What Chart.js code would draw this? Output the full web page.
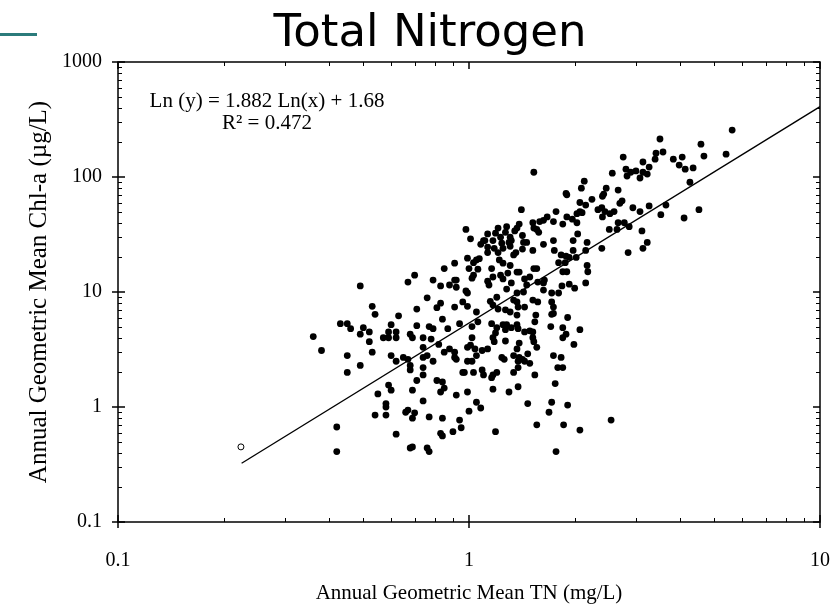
<!DOCTYPE html>
<html>
<head>
<meta charset="utf-8">
<title>Total Nitrogen</title>
<script src="https://cdn.jsdelivr.net/npm/chart.js@4.4.1/dist/chart.umd.min.js"></script>
<style>
  body { margin: 0; background: #fff; }
  canvas { display: block; }
</style>
</head>
<body>
<canvas id="tnChart" width="835" height="608"></canvas>
<script>
// Annual geometric mean TN (mg/L), one entry per lake-year
const tnValues = [
  3.50, 4.58, 5.40, 4.67, 3.41, 3.57, 3.39, 3.82, 4.05, 3.97,
  4.13, 4.35, 3.26, 3.22, 3.13, 2.75, 2.80, 2.82, 2.89, 2.99,
  3.07, 3.13, 2.56, 1.53, 2.13, 2.09, 2.46, 2.42, 2.40, 2.66,
  1.89, 1.90, 2.24, 2.07, 2.15, 2.69, 2.73, 2.93, 3.07, 3.26,
  3.64, 3.52, 4.26, 4.52, 4.10, 2.33, 2.39, 2.44, 2.52, 2.59,
  2.40, 1.77, 1.67, 1.90, 1.97, 2.03, 2.07, 2.10, 2.03, 1.85,
  1.74, 1.59, 1.63, 1.52, 1.56, 1.53, 1.58, 2.66, 2.77, 2.86,
  2.64, 2.51, 3.11, 3.22, 3.13, 2.84, 2.39, 2.04, 1.74, 1.63,
  1.98, 2.17, 1.52, 1.75, 1.98, 1.83, 1.89, 1.93, 2.02, 2.15,
  1.80, 1.88, 2.17, 2.18, 1.85, 1.90, 1.56, 1.53, 1.49, 1.64,
  1.63, 1.63, 1.57, 1.84, 1.93, 2.00, 2.15, 1.72, 1.80, 5.62,
  1.41, 0.98, 1.01, 1.13, 1.11, 1.21, 1.28, 1.27, 1.39, 1.37,
  1.35, 1.42, 1.43, 1.31, 1.32, 1.30, 1.17, 1.19, 1.23, 1.08,
  1.10, 1.13, 1.13, 1.18, 1.21, 1.24, 1.34, 1.36, 1.46, 1.25,
  1.31, 1.42, 0.99, 1.03, 1.05, 1.07, 1.00, 1.06, 1.03, 1.02,
  0.91, 0.85, 1.16, 1.22, 1.25, 1.31, 1.37, 1.39, 1.29, 1.32,
  1.23, 1.25, 1.17, 1.13, 1.14, 0.70, 0.67, 0.79, 0.83, 0.88,
  0.91, 0.92, 0.92, 0.98, 0.99, 0.49, 1.28, 1.44, 1.46, 1.43,
  1.37,
  0.53, 0.54, 0.63, 0.43, 0.45, 0.46, 0.50, 0.49, 0.52, 0.52,
  0.36, 0.38, 0.45, 0.53, 0.60, 0.60, 0.59, 0.62, 0.57, 0.59,
  0.62, 0.62, 0.49, 0.45, 0.59, 0.60, 0.55, 0.58, 0.58, 0.54,
  0.58, 0.62, 0.42, 0.42,
  0.76, 0.83, 0.81, 0.71, 0.91, 0.96, 0.99, 1.05, 1.15, 1.17,
  1.20, 1.21, 1.27, 1.31, 1.34, 1.37, 1.38, 1.44, 1.52, 1.57,
  1.72, 1.74, 1.72, 1.74, 1.91, 1.55, 1.54, 1.37, 0.84, 1.06,
  1.02, 0.94, 0.87, 0.77, 0.79, 0.71, 0.68, 0.69, 0.74, 0.78,
  1.16, 1.20, 1.19, 1.17, 1.25, 1.28, 1.27, 1.32, 1.37, 1.38,
  1.44, 1.49, 1.52, 1.52, 1.53, 1.71, 1.85, 1.89, 1.85, 2.07,
  1.99, 1.27, 1.39, 1.56, 1.37, 1.34, 1.39, 1.42, 1.38, 1.44,
  1.49, 1.47, 1.74, 1.83, 1.79, 1.85, 1.02, 1.01, 0.99, 1.04,
  1.05, 1.09, 1.13, 1.24, 1.26, 1.18, 0.82, 0.74, 0.76, 0.85,
  0.88, 0.91, 0.91, 0.92, 0.99, 1.02, 0.65, 0.67, 0.74, 0.79,
  0.68, 0.68, 0.74, 0.74, 0.71, 0.96, 0.97, 1.03, 1.09, 1.10,
  1.16, 1.17, 1.20, 1.34, 1.38, 1.54, 0.81, 0.84, 0.85, 0.83,
  0.69, 0.92, 0.99, 1.17, 1.30, 1.38, 1.76, 1.05, 1.08, 0.74,
  1.47, 1.72, 1.91, 0.66, 0.67, 0.70, 0.69, 0.77, 0.84, 0.94,
  0.95, 1.00, 1.69, 1.56, 1.86, 2.07, 1.19, 0.83, 0.84, 0.90,
  0.68, 0.69, 0.76, 0.77, 1.77, 2.54,
];

// Annual geometric mean Chl-a (ug/L), same order as tnValues
const chlaValues = [
  214, 193, 158, 152, 161, 165, 143, 143, 149, 127,
  117, 120, 122, 106, 135, 149, 117, 102, 110, 113,
  98, 110, 108, 110, 92, 80, 80, 71, 68, 77,
  72, 70, 64, 60, 57, 59, 62, 54, 50, 56,
  57, 47, 90, 52, 44, 52, 54, 50, 48, 50,
  45, 50, 45, 45, 43, 48, 50, 49, 40, 39,
  41, 41, 42, 40, 35, 36, 33, 40, 40, 37,
  35, 35, 34, 27, 24, 22, 24, 32, 28, 26,
  28, 27, 23, 23, 23, 21, 20.5, 20, 20, 23,
  18, 18, 17, 15, 15, 15, 16, 16, 13.5, 12.7,
  12, 10.4, 12.2, 11.3, 11.7, 10.8, 12, 9.8, 9.8, 256,
  52, 35, 29, 32, 28, 36, 37, 33, 39, 36,
  34, 31, 27, 30, 28, 27, 28, 32.5, 30, 26,
  28, 24.6, 22, 24, 22, 26.6, 21, 22, 27, 24,
  25, 23.6, 19.7, 18, 19, 19.5, 16, 15.8, 14, 13.2,
  17.8, 16, 16, 19, 17.8, 17, 14.9, 14.9, 14.6, 12,
  14, 13, 13.5, 12.4, 11.5, 14, 12.2, 12.7, 11.3, 11.5,
  12.7, 12.7, 11, 10.2, 9.8, 11.3, 10.6, 13, 11.5, 10,
  9.8,
  7.5, 6.4, 6.2, 5.3, 5.3, 4.8, 4.9, 4.3, 4.5, 3.7,
  4.1, 3.1, 2.8, 3.0, 2.8, 5.2, 4.5, 4.5, 4.0, 4.0,
  4.0, 2.5, 2.3, 2.0, 1.55, 1.4, 1.3, 1.07, 1.0, 0.85,
  0.85, 0.58, 0.67, 0.41,
  8.9, 8.0, 7.3, 7.1, 7.4, 8.2, 7.5, 6.7, 8.3, 7.7,
  9.0, 7.1, 7.0, 6.7, 8.5, 8.2, 7.4, 7.4, 8.5, 8.2,
  8.2, 7.4, 6.4, 6.5, 6.0, 6.3, 5.5, 6.3, 5.8, 5.5,
  5.0, 5.3, 4.8, 5.0, 4.8, 5.1, 4.3, 4.0, 4.0, 3.9,
  5.3, 4.9, 4.4, 4.0, 5.2, 5.2, 4.7, 4.9, 5.2, 4.8,
  4.5, 4.6, 4.5, 4.0, 3.7, 5.0, 4.9, 4.3, 4.0, 4.7,
  3.5, 3.75, 3.6, 3.3, 3.2, 2.8, 2.7, 2.6, 2.5, 2.5,
  2.4, 2.9, 2.8, 2.7, 2.2, 2.2, 4.0, 3.45, 3.3, 3.2,
  2.8, 3.1, 3.2, 2.7, 2.6, 3.7, 3.5, 3.3, 2.8, 3.0,
  3.2, 3.0, 2.7, 2.6, 2.5, 2.5, 2.7, 2.6, 2.7, 2.5,
  2.3, 2.1, 2.2, 1.9, 1.7, 2.0, 2.0, 2.0, 2.1, 1.9,
  1.8, 1.9, 2.0, 2.0, 2.2, 1.9, 1.7, 1.65, 1.46, 1.35,
  1.4, 1.27, 1.35, 1.43, 1.35, 1.5, 1.6, 1.1, 0.98, 1.13,
  1.07, 1.1, 1.04, 0.9, 0.94, 0.89, 0.8, 0.82, 0.8, 0.77,
  0.66, 0.92, 0.9, 0.7, 0.7, 0.63, 0.61, 0.59, 0.56, 0.61,
  0.44, 0.45, 0.44, 0.41, 0.41, 0.77,
];

// The single open-circle point (excluded from the fit)
const outlierTn = [0.224];
const outlierChla = [0.45];

// Fit from the plot: Ln(y) = 1.882 Ln(x) + 1.68
const fitSlope = 1.882;
const fitIntercept = 1.68;
const fitR2 = 0.472;
const fitRange = [0.225, 10];

// Axis ticks
const xMajorTicks = [0.1, 1, 10];
const xTickLabels = ["0.1", "1", "10"];
const yMajorTicks = [0.1, 1, 10, 100, 1000];
const yTickLabels = ["0.1", "1", "10", "100", "1000"];

const points = tnValues.map((x, i) => ({ x: x, y: chlaValues[i] }));
const outliers = outlierTn.map((x, i) => ({ x: x, y: outlierChla[i] }));
const fitLine = fitRange.map((x) => ({
  x: x,
  y: Math.exp(fitSlope * Math.log(x) + fitIntercept),
}));

// minor log ticks (2..9 in each decade)
function minorTicks(majors) {
  const out = [];
  for (let i = 0; i < majors.length - 1; i++) {
    for (let k = 2; k <= 9; k++) out.push(majors[i] * k);
  }
  return out;
}
const xMinorTicks = minorTicks(xMajorTicks);
const yMinorTicks = minorTicks(yMajorTicks);

const serif = "'Liberation Serif', 'Times New Roman', serif";

// Frame, tick marks, title and the fit equation
const decorPlugin = {
  id: "decor",
  afterDraw(chart) {
    const { ctx, chartArea: a, scales } = chart;
    const xs = scales.x;
    const ys = scales.y;
    ctx.save();

    // teal slide accent at top left
    ctx.fillStyle = "#2b7b7b";
    ctx.fillRect(0, 33, 37, 3);

    // box
    ctx.strokeStyle = "#000";
    ctx.lineWidth = 1.5;
    ctx.strokeRect(a.left, a.top, a.right - a.left, a.bottom - a.top);

    ctx.lineWidth = 1;
    ctx.beginPath();
    xMinorTicks.forEach((v) => {
      const px = Math.round(xs.getPixelForValue(v)) + 0.5;
      ctx.moveTo(px, a.bottom); ctx.lineTo(px, a.bottom - 4);
      ctx.moveTo(px, a.top); ctx.lineTo(px, a.top + 4);
    });
    yMinorTicks.forEach((v) => {
      const py = Math.round(ys.getPixelForValue(v)) + 0.5;
      ctx.moveTo(a.left, py); ctx.lineTo(a.left + 4, py);
      ctx.moveTo(a.right, py); ctx.lineTo(a.right - 4, py);
    });
    ctx.stroke();

    ctx.lineWidth = 1.5;
    ctx.beginPath();
    xMajorTicks.forEach((v) => {
      const px = xs.getPixelForValue(v);
      ctx.moveTo(px, a.bottom + 6); ctx.lineTo(px, a.bottom - 7);
      ctx.moveTo(px, a.top); ctx.lineTo(px, a.top + 7);
    });
    yMajorTicks.forEach((v) => {
      const py = ys.getPixelForValue(v);
      ctx.moveTo(a.left - 6, py); ctx.lineTo(a.left + 7, py);
      ctx.moveTo(a.right, py); ctx.lineTo(a.right - 7, py);
    });
    ctx.stroke();

    // chart title
    ctx.fillStyle = "#000";
    ctx.font = "45px 'DejaVu Sans', Verdana, sans-serif";
    ctx.textAlign = "center";
    ctx.textBaseline = "alphabetic";
    ctx.fillText("Total Nitrogen", 430, 46);

    // regression equation
    ctx.font = "21px " + serif;
    ctx.fillText("Ln (y) = " + fitSlope + " Ln(x) + " + fitIntercept, 267, 107);
    ctx.fillText("R\u00B2 = " + fitR2, 267, 129);

    ctx.restore();
  },
};

const ctx = document.getElementById("tnChart").getContext("2d");
new Chart(ctx, {
  type: "scatter",
  data: {
    datasets: [
      {
        label: "Lakes",
        data: points,
        pointRadius: 3.4,
        pointBackgroundColor: "#000",
        pointBorderWidth: 0,
      },
      {
        label: "Excluded",
        data: outliers,
        pointRadius: 3,
        pointBackgroundColor: "#fff",
        pointBorderColor: "#000",
        pointBorderWidth: 1,
      },
      {
        type: "line",
        label: "Fit",
        data: fitLine,
        borderColor: "#000",
        borderWidth: 1.3,
        pointRadius: 0,
        fill: false,
      },
    ],
  },
  options: {
    responsive: false,
    animation: false,
    layout: { padding: { left: 0, top: 62, right: 15, bottom: 0 } },
    plugins: {
      legend: { display: false },
      tooltip: { enabled: false },
    },
    scales: {
      x: {
        type: "logarithmic",
        min: 0.1,
        max: 10,
        afterBuildTicks: (s) => { s.ticks = xMajorTicks.map((v) => ({ value: v })); },
        afterFit: (s) => {
          s.height = 86;
          s.paddingLeft = 0;
          s.paddingRight = 0;
        },
        ticks: {
          autoSkip: false,
          maxRotation: 0,
          padding: 27,
          color: "#000",
          font: { family: serif, size: 20 },
          callback: (v, i) => xTickLabels[i],
        },
        grid: { display: false, drawTicks: false },
        border: { display: false },
        title: {
          display: true,
          text: "Annual Geometric Mean TN (mg/L)",
          color: "#000",
          font: { family: serif, size: 21 },
          padding: { top: 0, bottom: 2 },
        },
      },
      y: {
        type: "logarithmic",
        min: 0.1,
        max: 1000,
        afterBuildTicks: (s) => { s.ticks = yMajorTicks.map((v) => ({ value: v })); },
        afterFit: (s) => {
          s.width = 118;
          s.paddingTop = 0;
          s.paddingBottom = 0;
        },
        ticks: {
          autoSkip: false,
          padding: 16,
          color: "#000",
          font: { family: serif, size: 20 },
          callback: (v, i) => yTickLabels[i],
        },
        grid: { display: false, drawTicks: false },
        border: { display: false },
        title: {
          display: true,
          text: "Annual Geometric Mean Chl-a (\u00B5g/L)",
          color: "#000",
          font: { family: serif, size: 25 },
          padding: { top: 24, bottom: 0 },
        },
      },
    },
  },
  plugins: [decorPlugin],
});
</script>
</body>
</html>
